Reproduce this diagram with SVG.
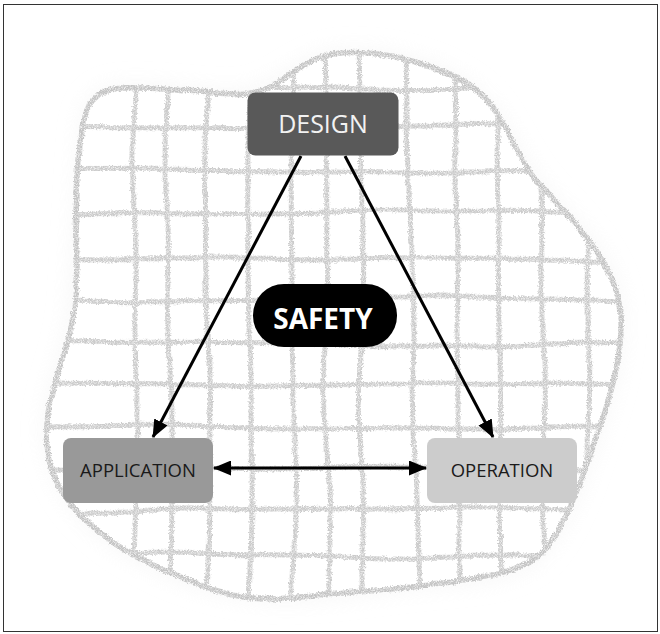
<svg xmlns="http://www.w3.org/2000/svg" width="660" height="634" viewBox="0 0 660 634">
  <defs>
    <style>
      .grid { fill: none; stroke: #cbcbcb; stroke-width: 5; stroke-linecap: round; }
      .outline { fill: none; stroke: #c4c4c4; stroke-width: 5.5; }
      .box-text { font-family: "Open Sans", "Liberation Sans", sans-serif; text-anchor: middle; }
      .conn { fill: none; stroke: #000; stroke-width: 3; }
    </style>
    <!-- pencil grain for the hand-drawn net: bend the strokes, roughen them, then speckle them -->
    <filter id="chalk" x="-5%" y="-5%" width="110%" height="110%">
      <feTurbulence type="fractalNoise" baseFrequency="0.009" numOctaves="1" seed="11" result="bend"/>
      <feDisplacementMap in="SourceGraphic" in2="bend" scale="12" xChannelSelector="R" yChannelSelector="G" result="bent"/>
      <feTurbulence type="fractalNoise" baseFrequency="0.6" numOctaves="2" seed="7" result="noise"/>
      <feDisplacementMap in="bent" in2="noise" scale="4" xChannelSelector="R" yChannelSelector="G" result="wobbly"/>
      <feTurbulence type="fractalNoise" baseFrequency="1.3" numOctaves="1" seed="3" result="grain"/>
      <feColorMatrix in="grain" type="matrix" values="0 0 0 0 0  0 0 0 0 0  0 0 0 0 0  0 0 0 -2.2 1.9" result="speckle"/>
      <feComposite in="wobbly" in2="speckle" operator="in"/>
    </filter>
    <filter id="haze" x="-20%" y="-20%" width="140%" height="140%">
      <feGaussianBlur stdDeviation="12"/>
    </filter>
    <clipPath id="blobClip">
      <path id="blobShape" d="M 83,130 C 85,105 95,90 120,88 C 170,86 215,97 245,93 C 280,88 300,57 340,53 C 390,50 450,65 485,100 C 505,122 515,150 535,178 C 560,210 600,240 615,285 C 628,325 615,380 600,425 C 585,470 570,525 540,555 C 515,580 470,580 420,585 C 370,590 320,600 275,598 C 215,596 150,570 110,540 C 70,510 45,470 47,425 C 49,385 70,350 73,300 C 76,250 80,170 83,130 Z"/>
    </clipPath>
    <marker id="head" markerUnits="userSpaceOnUse" markerWidth="18" markerHeight="15" refX="17" refY="7.5" orient="auto-start-reverse">
      <path d="M0,0 L18,7.5 L0,15 Z" fill="#000"/>
    </marker>
  </defs>

  <rect x="0" y="0" width="660" height="634" fill="#fff"/>
  <rect x="3.5" y="4.5" width="654" height="627" fill="none" stroke="#333" stroke-width="1"/>

  <!-- faint halo around the net, white inside -->
  <use href="#blobShape" fill="#f2f2f2" opacity="0.7" filter="url(#haze)"/>
  <use href="#blobShape" fill="#fff"/>

  <!-- hand-drawn net -->
  <g id="net" filter="url(#chalk)">
    <g clip-path="url(#blobClip)">
      <!-- vertical strands -->
      <path class="grid" d="M137,40 Q133,200 136,330 T132,610"/>
      <path class="grid" d="M170,40 Q166,200 170,330 T172,610"/>
      <path class="grid" d="M210,40 Q204,200 208,330 T208,610"/>
      <path class="grid" d="M250,40 Q246,200 249,330 T248,610"/>
      <path class="grid" d="M292,40 Q290,200 293,330 T290,610"/>
      <path class="grid" d="M325,40 Q328,200 326,330 T332,610"/>
      <path class="grid" d="M360,40 Q363,200 361,330 T364,610"/>
      <path class="grid" d="M408,40 Q410,200 412,330 T420,610"/>
      <path class="grid" d="M455,40 Q456,200 458,330 T460,610"/>
      <path class="grid" d="M497,40 Q499,200 500,330 T502,610"/>
      <path class="grid" d="M540,40 Q543,200 543,330 T547,610"/>
      <path class="grid" d="M587,40 Q589,200 588,330 T586,610"/>
      <!-- horizontal strands -->
      <path class="grid" d="M40,86 Q200,84 330,88 T630,86"/>
      <path class="grid" d="M40,127 Q200,129 330,126 T630,130"/>
      <path class="grid" d="M40,170 Q200,168 330,171 T630,169"/>
      <path class="grid" d="M40,213 Q200,215 330,212 T630,214"/>
      <path class="grid" d="M40,258 Q200,257 330,259 T630,260"/>
      <path class="grid" d="M40,300 Q200,302 330,299 T630,301"/>
      <path class="grid" d="M40,343 Q200,341 330,344 T630,342"/>
      <path class="grid" d="M40,385 Q200,387 330,384 T630,386"/>
      <path class="grid" d="M40,427 Q200,425 330,428 T630,426"/>
      <path class="grid" d="M40,469 Q200,471 330,468 T630,470"/>
      <path class="grid" d="M40,511 Q200,512 330,509 T630,507"/>
      <path class="grid" d="M40,555 Q200,553 330,556 T630,555"/>
    </g>
    <use href="#blobShape" class="outline"/>
  </g>

  <!-- connectors -->
  <g id="connectors">
    <line class="conn" x1="301" y1="156" x2="153" y2="437" marker-end="url(#head)"/>
    <line class="conn" x1="345" y1="156" x2="493" y2="437" marker-end="url(#head)"/>
    <line class="conn" x1="214" y1="468" x2="426" y2="468" marker-start="url(#head)" marker-end="url(#head)"/>
  </g>

  <!-- nodes -->
  <g id="design">
    <rect x="247.5" y="92.5" width="151" height="63" rx="8" fill="#595959"/>
    <text class="box-text" x="323" y="133" font-size="25" fill="#f2f2f2">DESIGN</text>
  </g>
  <g id="safety">
    <rect x="253" y="284" width="144" height="63" rx="31" fill="#000"/>
    <text class="box-text" x="323" y="329" font-size="28" font-weight="bold" fill="#fff">SAFETY</text>
  </g>
  <g id="application">
    <rect x="63" y="438" width="150" height="65" rx="8" fill="#999999"/>
    <text class="box-text" x="138" y="477" font-size="18.5" fill="#1a1a1a">APPLICATION</text>
  </g>
  <g id="operation">
    <rect x="427" y="438" width="150" height="65" rx="8" fill="#cccccc"/>
    <text class="box-text" x="502" y="477" font-size="18.5" fill="#1a1a1a">OPERATION</text>
  </g>
</svg>
